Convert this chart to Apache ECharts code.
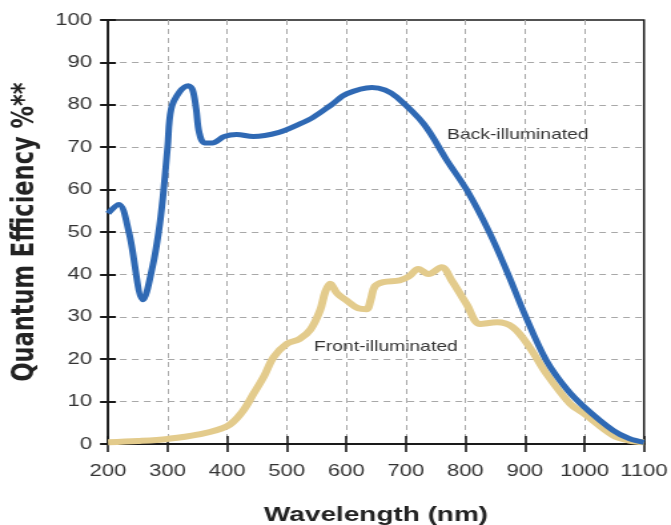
<!DOCTYPE html>
<html><head><meta charset="utf-8">
<script src="https://cdn.jsdelivr.net/npm/echarts@6/dist/echarts.min.js"></script>
<style>
html,body{margin:0;padding:0;background:#fff;overflow:hidden}
#c{width:504px;height:525px;transform:scaleX(1.331349);transform-origin:0 0}
</style>
</head><body><div id="c"></div>
<script>
var backWavelength = [200,218,235,259,275,285,292,300,306,320,335,342,348,353,362,375,395,416,444,487,522,545,575,601,643,665,685,730,769,802,840,872,900,936,970,1000,1048,1075,1100];
var backQE =         [54.4,56.5,50,34,42,50,58,70,79,83,84.5,83.5,79,73.5,71,71,72.5,73,72.5,73.5,75.5,77.1,80,82.6,84.1,83.5,81.8,75.5,66.9,60,50,40,30.5,19.7,13,8.7,3.2,1.3,0.4];
var frontWavelength = [200,250,300,350,400,425,445,462,478,500,522,540,556,565,573,585,601,620,634,641,648,662,690,705,721,738,760,777,802,825,853,880,908,936,976,1000,1048,1075,1100];
var frontQE =         [0.4,0.7,1.2,2.2,4.2,7.5,12,16,20.5,23.6,24.8,27,31.5,36,37.8,35.5,33.8,32,31.8,34,37.2,38.2,38.6,39.5,41.3,40.1,41.7,38.6,33,28.3,28.7,27.5,22.8,16.6,9.5,7.1,2,0.8,0.4];
var xTicks = [200,300,400,500,600,700,800,900,1000,1100];
var yTicks = [0,10,20,30,40,50,60,70,80,90,100];
var seriesNames = ['Back-illuminated','Front-illuminated'];

function pairs(xs, ys){ return xs.map(function(x,i){ return [x, ys[i]]; }); }

var font = 'Liberation Sans, Arial, sans-serif';
var S = 671/504;
var chart = echarts.init(document.getElementById('c'), null, {renderer:'canvas'});
var dark = '#1a1a1a';
var split = {show:true, showMinLine:false, showMaxLine:false, lineStyle:{color:'#a8a8a8', type:[5,4], width:1}};
chart.setOption({
  animation:false,
  grid:{left:108/S, right:27/S, top:20, bottom:81, show:true, borderColor:dark, borderWidth:1.5,
        containLabel:false, outerBoundsMode:'none'},
  xAxis:[{
    type:'value', min:xTicks[0], max:xTicks[xTicks.length-1], interval:100,
    axisLine:{show:true, lineStyle:{color:dark, width:2}},
    axisTick:{show:true, length:8, lineStyle:{color:dark, width:1.6}},
    axisLabel:{color:'#333', fontSize:16.5, fontFamily:font, margin:19, formatter:function(v){return String(v);}},
    splitLine:split,
    name:'Wavelength (nm)', nameLocation:'middle', nameGap:61,
    nameTextStyle:{fontSize:21, fontWeight:'bold', color:'#222', fontFamily:font}
  },{
    type:'value', min:xTicks[0], max:xTicks[xTicks.length-1], interval:100, position:'bottom',
    axisLine:{show:false}, axisTick:{show:true, inside:true, length:8, lineStyle:{color:dark, width:1.6}},
    axisLabel:{show:false}, splitLine:{show:false}
  }],
  yAxis:[{
    type:'value', min:yTicks[0], max:yTicks[yTicks.length-1], interval:10,
    axisLine:{show:true, lineStyle:{color:dark, width:1.6}},
    axisTick:{show:true, length:6, lineStyle:{color:dark, width:2}},
    axisLabel:{color:'#333', fontSize:16.5, fontFamily:font, margin:12},
    splitLine:split,
    name:'Quantum Efficiency %**', nameLocation:'middle', nameGap:50,
    nameTextStyle:{fontSize:22.5, fontWeight:'bold', color:'#222', fontFamily:'DejaVu Sans, sans-serif'}
  },{
    type:'value', min:yTicks[0], max:yTicks[yTicks.length-1], interval:10, position:'left',
    axisLine:{show:false}, axisTick:{show:true, inside:true, length:6, lineStyle:{color:dark, width:2}},
    axisLabel:{show:false}, splitLine:{show:false}
  }],
  series:[{
    name:seriesNames[1], type:'line', smooth:0.35, showSymbol:false,
    data:pairs(frontWavelength, frontQE),
    lineStyle:{color:'#e3cb8c', width:6}, itemStyle:{color:'#e3cb8c'}, z:2
  },{
    name:seriesNames[0], type:'line', smooth:0.35, showSymbol:false,
    data:pairs(backWavelength, backQE),
    lineStyle:{color:'#2f69b4', width:5}, itemStyle:{color:'#2f69b4'}, z:3
  }],
  graphic:[
    {type:'text', left:447/S, top:127, style:{text:seriesNames[0], font:'14.5px '+font, fill:'#333'}},
    {type:'text', left:314/S, top:339, style:{text:seriesNames[1], font:'14.5px '+font, fill:'#333'}}
  ]
});
</script></body></html>
